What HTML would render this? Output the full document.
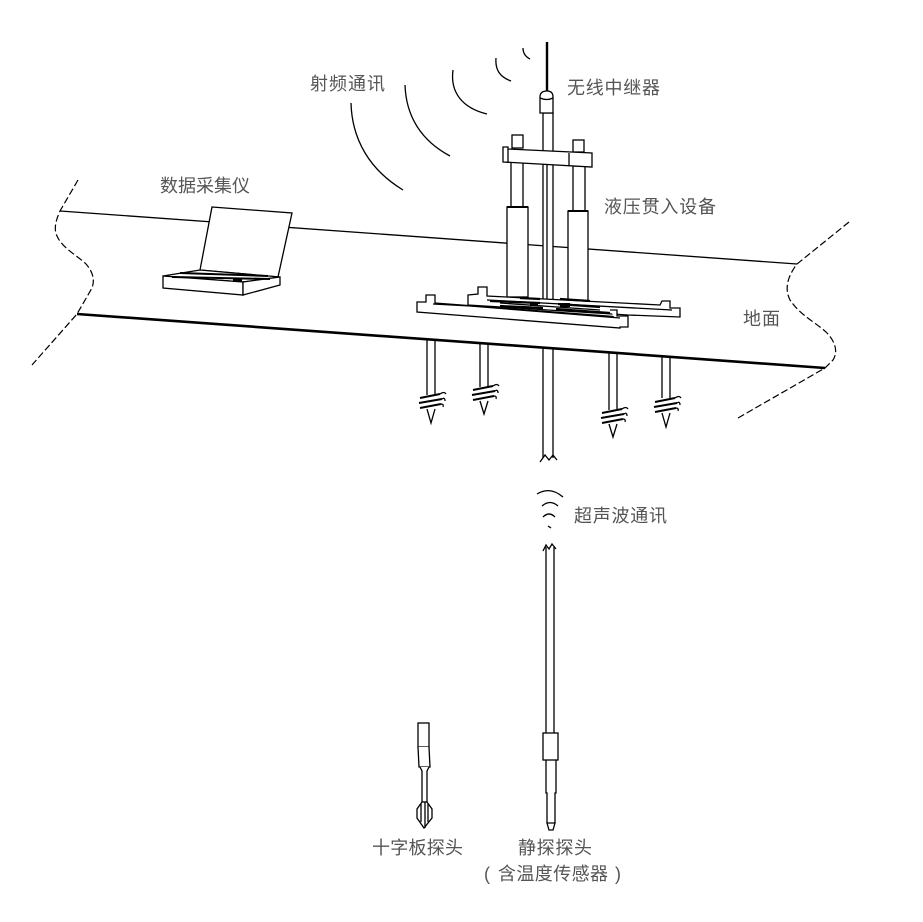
<!DOCTYPE html>
<html><head><meta charset="utf-8"><style>
html,body{margin:0;padding:0;background:#fff;}
svg{display:block;}
.l{fill:none;stroke:#000;stroke-width:1.3;}
.w{fill:#fff;stroke:#000;stroke-width:1.3;}
.d{fill:none;stroke:#000;stroke-width:1.2;stroke-dasharray:7 3;}
.h{fill:none;stroke:#000;stroke-width:2;}
text{font-family:"Liberation Sans","Noto Sans CJK SC",sans-serif;font-size:18px;fill:#555;}
</style></head><body>
<svg width="923" height="922" viewBox="0 0 923 922" xmlns="http://www.w3.org/2000/svg">
<rect width="923" height="922" fill="#fff"/>

<!-- ground lines -->
<path class="l" d="M60,211 L797,264"/>
<path d="M77,314 L825,368" fill="none" stroke="#000" stroke-width="2.6"/>
<!-- dashed boundaries -->
<path class="d" d="M78,180 L60,211 C55,222 54,230 57,236 C62,248 78,256 86,264 C93,272 95,280 92,288 L77,314 L32,365"/>
<path class="d" d="M849,222 L797,264 C788,276 784,288 790,300 C800,315 815,322 826,332 C836,342 838,352 833,360 L825,368 L738,418"/>

<!-- radio waves -->
<path class="l" d="M351,103 C352,140 370,170 403,190"/>
<path class="l" d="M405,85 C406,115 420,140 450,156"/>
<path class="l" d="M453,70 C450,92 462,108 487,114"/>
<path class="l" d="M496,58 C495,70 500,77 511,81"/>
<path class="l" d="M523,48 C523,54 526,57 530,59"/>

<!-- antenna & relay -->
<path d="M547,42 L547,92" stroke="#000" stroke-width="2.4"/>
<path class="w" d="M543,113 L543,305 L553,305 L553,113 Z"/>
<path class="l" d="M547,165 L547,300"/>
<path class="w" d="M540,113 L540,97 Q540,91 547,91 Q553,91 553,97 L553,113 Z"/>
<path class="l" d="M540,98 Q547,101 553,98"/>

<!-- columns -->
<rect class="w" x="511" y="162" width="12" height="45"/>
<rect class="w" x="507" y="207" width="21" height="90"/>
<path d="M507,207 L528,207" stroke="#000" stroke-width="2"/>
<rect class="w" x="573" y="166" width="12" height="45"/>
<rect class="w" x="568" y="211" width="20" height="92"/>
<path d="M568,211 L588,211" stroke="#000" stroke-width="2"/>

<!-- crossbar -->
<rect class="w" x="512" y="135" width="11" height="13"/>
<rect class="w" x="573" y="140" width="11" height="12"/>
<path class="w" d="M503,147 L508,147 L508,149 L592,153 L592,167 L503,162 Z"/>
<path class="l" d="M508,149 L508,163 M569,153 L569,166"/>

<!-- platform -->
<path class="w" d="M468,295 L478,294 L478,287 L487,287 L487,296 L660,305 L662,301 L670,301 L670,308 L680,308 L680,317 L628,315 L468,305 Z"/>
<path class="w" d="M417,302 L426,302 L426,295 L435,295 L435,303 L620,317 L620,328 L417,312 Z"/>
<path class="w" d="M610,310 L617,310 L617,316 L628,316 L628,327 L620,327"/>
<path class="l" d="M433,304 L470,306 M470,306 L620,318 M487,300 L672,310 M500,303 L600,310"/>
<path d="M490,301 L540,303 M500,306 L543,308 M558,304 L600,307 M556,309 L610,313 M520,298 L540,299 M560,299 L590,301" fill="none" stroke="#000" stroke-width="2.2"/>
<rect x="530" y="302" width="8" height="4" fill="#000"/>
<rect x="560" y="303" width="10" height="4" fill="#000"/>

<!-- rod below ground -->
<path class="l" d="M543,347 L543,458 M553,347 L553,458"/>
<path class="l" d="M540,462 L545,455 L549,460 L553,455 L557,460"/>

<!-- anchors -->
<g transform="translate(427,339)">
<path class="l" d="M0,0 V56 M8,0 V56"/>
<path class="w" d="M0,70 L4,84 L8,70"/>
<path class="h" d="M-7,59 L13,55 M-8,64 L15,60 M-7,69 L14,65"/>
<path class="l" d="M13,55 q4,-3 6,0 M15,60 q3,-2 3,2 M14,65 q3,0 2,3"/>
</g>
<g transform="translate(480,343)">
<path class="l" d="M0,0 V44 M8,0 V44"/>
<path class="w" d="M0,58 L4,71 L8,58"/>
<path class="h" d="M-7,47 L13,43 M-8,52 L15,48 M-7,57 L14,53"/>
<path class="l" d="M13,43 q4,-3 6,0 M15,48 q3,-2 3,2 M14,53 q3,0 2,3"/>
</g>
<g transform="translate(609,353)">
<path class="l" d="M0,0 V57 M8,0 V57"/>
<path class="w" d="M0,71 L4,84 L8,71"/>
<path class="h" d="M-7,60 L13,56 M-8,65 L15,61 M-7,70 L14,66"/>
<path class="l" d="M13,56 q4,-3 6,0 M15,61 q3,-2 3,2 M14,66 q3,0 2,3"/>
</g>
<g transform="translate(662,357)">
<path class="l" d="M0,0 V41 M8,0 V41"/>
<path class="w" d="M0,56 L4,70 L8,56"/>
<path class="h" d="M-7,45 L13,41 M-8,50 L15,46 M-7,55 L14,51"/>
<path class="l" d="M13,41 q4,-3 6,0 M15,46 q3,-2 3,2 M14,51 q3,0 2,3"/>
</g>

<!-- laptop -->
<path class="w" d="M212,207 L292,213 L278,277 L200,270 Z"/>
<path class="w" d="M163,276 L200,270 L280,277 L243,282 Z"/>
<path class="w" d="M163,276 L243,282 L243,295 L163,288 Z"/>
<path class="w" d="M243,282 L280,277 L280,285 L243,295 Z"/>
<path d="M172,277 L270,279 M180,273 L268,276" fill="none" stroke="#000" stroke-width="2"/>
<rect x="233" y="278" width="9" height="4" fill="#000"/>

<!-- ultrasonic -->
<path class="l" d="M537,494 Q550,486 563,497"/>
<path class="l" d="M542,506 Q550,499 558,506"/>
<path class="l" d="M543,517 Q549,511 555,517"/>
<path class="l" d="M548,526 L551,528"/>

<!-- lower CPT rod -->
<path class="l" d="M543,551 L546,545 L549,549 L552,544 L556,549"/>
<path class="l" d="M546,547 L546,733 M554,547 L554,733"/>
<rect class="w" x="543" y="733" width="15" height="27"/>
<path class="l" d="M546,760 L546,793 L547,793 L547,823 M556,760 L556,793 L555,793 L555,823"/>
<path class="w" d="M547,823 L549,830 L553,830 L555,823 Z"/>

<!-- vane probe -->
<rect class="w" x="418" y="723" width="11" height="24"/>
<path class="w" d="M418,747 L419,767 L430,767 L429,747"/>
<path class="w" d="M420,767 L422,771 L422,802 L427,802 L427,771 L429,767"/>
<path class="w" d="M422,802 L417,809 L417,818 L424,828 L432,818 L432,809 L427,802 Z"/>
<path class="l" d="M421,804 L421,822 M425,802 L425,828 M428,804 L428,822"/>

<!-- labels -->
<text x="310" y="90" textLength="75">射频通讯</text>
<text x="567" y="94" textLength="93">无线中继器</text>
<text x="160" y="192" textLength="90">数据采集仪</text>
<text x="604" y="213" textLength="112">液压贯入设备</text>
<text x="743" y="325" textLength="37">地面</text>
<text x="574" y="522" textLength="93">超声波通讯</text>
<text x="372" y="854" textLength="91">十字板探头</text>
<text x="518" y="854" textLength="74">静探探头</text>
<text x="484" y="880">(</text>
<text x="498" y="880" textLength="110">含温度传感器</text>
<text x="615" y="880">)</text>
</svg>
</body></html>
